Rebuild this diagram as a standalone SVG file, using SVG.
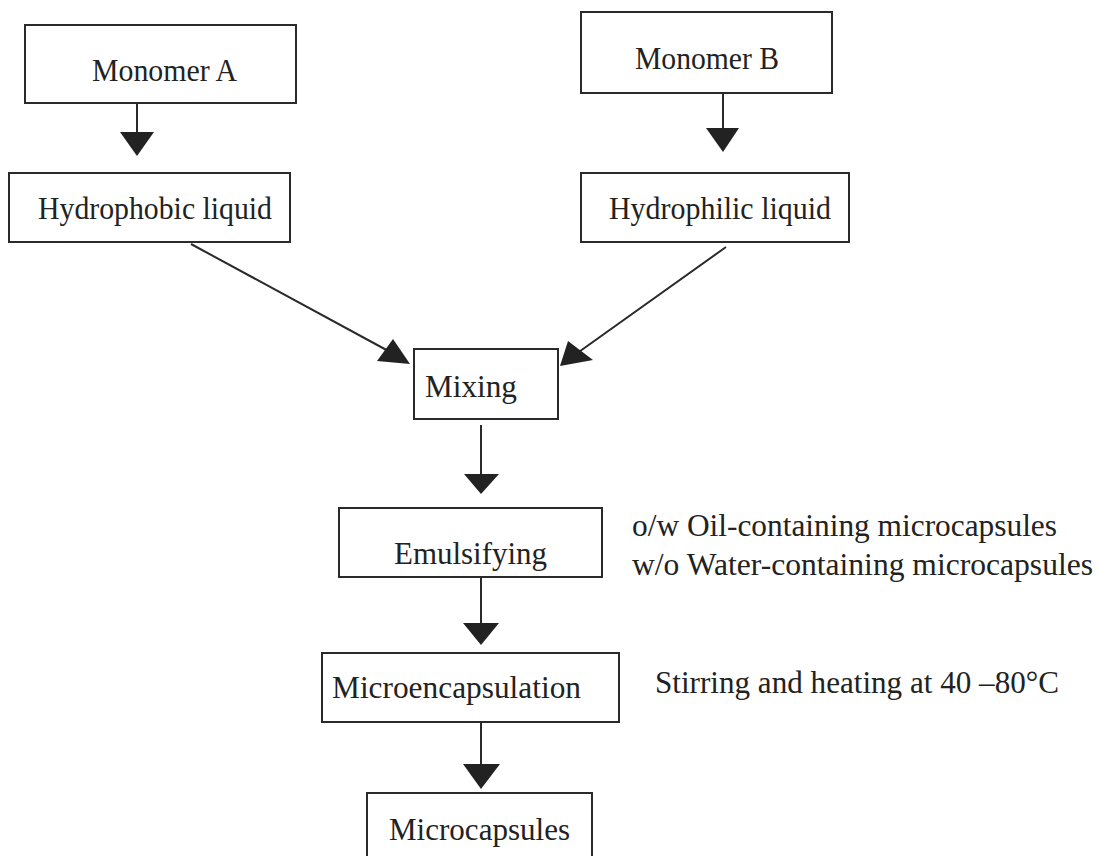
<svg xmlns="http://www.w3.org/2000/svg" width="1099" height="856" viewBox="0 0 1099 856">
<style>
.box{fill:#ffffff;stroke:#2a2a2a;stroke-width:2}
.t{font-family:"Liberation Serif","Times New Roman",serif;font-size:31px;fill:#222222}
.ln{stroke:#2a2a2a;stroke-width:2;fill:none}
.ah{fill:#222222;stroke:none}
</style>
<rect width="1099" height="856" fill="#ffffff"/>
<g id="connectors">
<line class="ln" x1="137" y1="100" x2="137" y2="134"/>
<polygon class="ah" points="120,132 154,132 137,156"/>
<line class="ln" x1="723" y1="94" x2="723" y2="130"/>
<polygon class="ah" points="706,128 739,128 723,152"/>
<line class="ln" x1="191" y1="244" x2="392" y2="353"/>
<polygon class="ah" points="410,364 377,361 393,339"/>
<line class="ln" x1="726" y1="247" x2="576" y2="354"/>
<polygon class="ah" points="560,366 568,341 593,360"/>
<line class="ln" x1="481" y1="425" x2="481" y2="476"/>
<polygon class="ah" points="464,474 499,474 481,494"/>
<line class="ln" x1="481" y1="577" x2="481" y2="625"/>
<polygon class="ah" points="463,623 499,623 481,645"/>
<line class="ln" x1="481" y1="722" x2="481" y2="766"/>
<polygon class="ah" points="463,764 500,764 481,789"/>
</g>
<g id="monomer-a">
<rect class="box" x="25" y="25" width="271" height="78"/>
<text class="t" x="92" y="81" font-size="35" textLength="145" lengthAdjust="spacingAndGlyphs">Monomer A</text>
</g>
<g id="monomer-b">
<rect class="box" x="581" y="12" width="251" height="81"/>
<text class="t" x="635" y="69" font-size="35" textLength="144" lengthAdjust="spacingAndGlyphs">Monomer B</text>
</g>
<g id="hydrophobic">
<rect class="box" x="9" y="173" width="281" height="69"/>
<text class="t" x="38" y="219" font-size="29" textLength="234" lengthAdjust="spacingAndGlyphs">Hydrophobic liquid</text>
</g>
<g id="hydrophilic">
<rect class="box" x="581" y="173" width="268" height="69"/>
<text class="t" x="609" y="219" font-size="29" textLength="222" lengthAdjust="spacingAndGlyphs">Hydrophilic liquid</text>
</g>
<g id="mixing">
<rect class="box" x="414" y="349" width="144" height="70"/>
<text class="t" x="425" y="397" textLength="92" lengthAdjust="spacingAndGlyphs">Mixing</text>
</g>
<g id="emulsifying">
<rect class="box" x="339" y="508" width="263" height="69"/>
<text class="t" x="394" y="564" textLength="153" lengthAdjust="spacingAndGlyphs">Emulsifying</text>
</g>
<g id="microencapsulation">
<rect class="box" x="322" y="653" width="297" height="69"/>
<text class="t" x="332" y="698" font-size="29" textLength="249" lengthAdjust="spacingAndGlyphs">Microencapsulation</text>
</g>
<g id="microcapsules">
<rect class="box" x="367" y="793" width="225" height="90"/>
<text class="t" x="389" y="840" textLength="181" lengthAdjust="spacingAndGlyphs">Microcapsules</text>
</g>
<g id="notes">
<text class="t" x="632" y="536" font-size="29" textLength="425" lengthAdjust="spacingAndGlyphs">o/w Oil-containing microcapsules</text>
<text class="t" x="632" y="575" font-size="29" textLength="461" lengthAdjust="spacingAndGlyphs">w/o Water-containing microcapsules</text>
<text class="t" x="655" y="693" font-size="29" textLength="404" lengthAdjust="spacingAndGlyphs">Stirring and heating at 40 –80°C</text>
</g>
</svg>
